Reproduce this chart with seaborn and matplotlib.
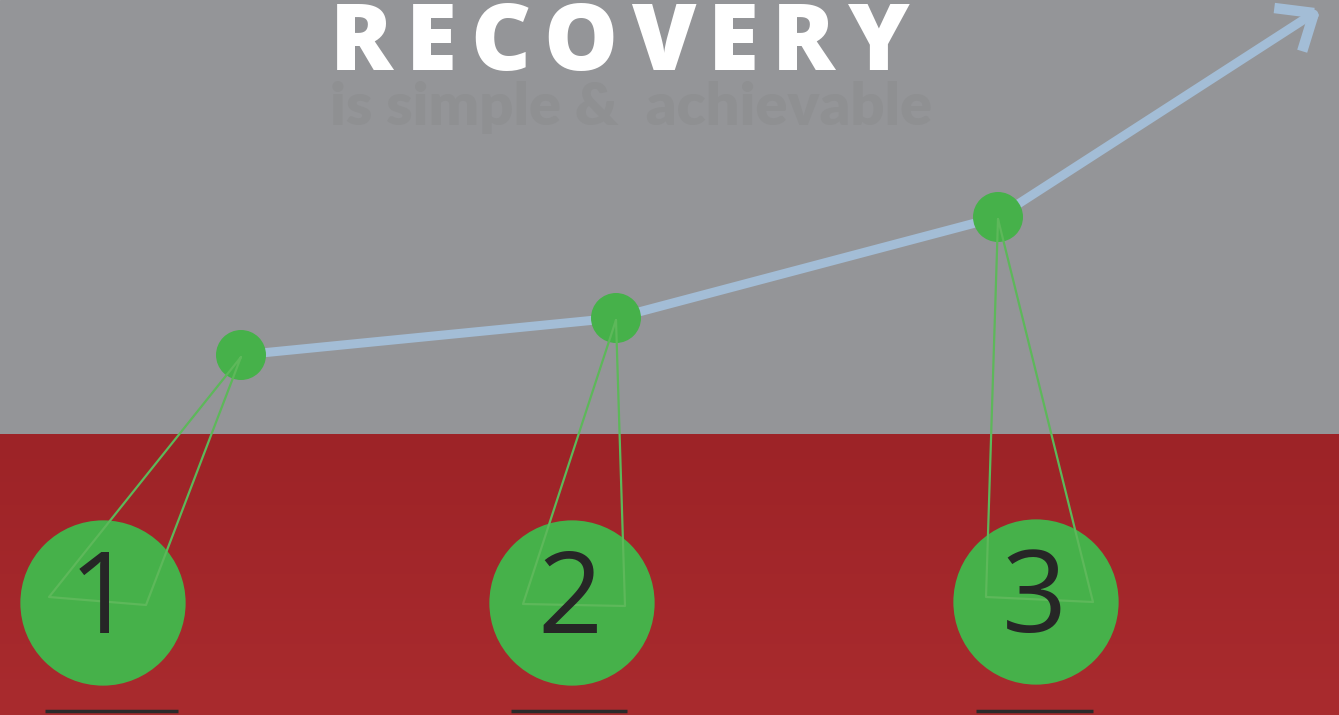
import numpy as np
import matplotlib
matplotlib.use("Agg")
import matplotlib.pyplot as plt
import seaborn as sns
import pandas as pd
from matplotlib.colors import LinearSegmentedColormap

# trend line points (pixel-like coordinates, y grows downward)
step_x = [241, 616, 998]
step_y = [355, 318, 217]
arrow_end = (1314, 13)

# numbered badges
badge_labels = ["1", "2", "3"]
badge_x = [103, 572, 1036]
badge_y = [603, 603, 602]

# pointer triangles: left foot / right foot of each
foot_left = [(49, 597), (523, 604), (986, 597)]
foot_right = [(146, 605), (625, 606), (1093, 602)]

# underline segments
under_x0 = [45, 511, 976]
under_x1 = [178, 627, 1093]

title = "RECOVERY"
subtitle = "is simple &  achievable"

GRAY = "#949598"
LINE = "#a3bdd6"
GREEN = "#46b14a"
THIN_GREEN = "#5db85a"

sns.set_theme(style="white")
plt.rcParams['font.family'] = ['Open Sans', 'DejaVu Sans']

fig = plt.figure(figsize=(13.39, 7.15), dpi=100)
ax = fig.add_axes([0, 0, 1, 1])

# backgrounds
ax.axhspan(0, 434, color=GRAY, zorder=0)
grad = np.linspace(0, 1, 100).reshape(-1, 1)
red_cmap = LinearSegmentedColormap.from_list("r", ["#9d2327", "#a92b2e"])
ax.imshow(grad, extent=[0, 1339, 715, 434], cmap=red_cmap, aspect="auto", zorder=0)
ax.set_xlim(0, 1339)
ax.set_ylim(715, 0)
ax.axis("off")

# trend line + arrow
df = pd.DataFrame({"x": step_x, "y": step_y})
sns.lineplot(data=df, x="x", y="y", ax=ax, color=LINE, lw=6.5, sort=False,
             solid_capstyle="round", zorder=2)
ax.plot([step_x[-1], arrow_end[0]], [step_y[-1], arrow_end[1]], color=LINE,
        lw=6.5, solid_capstyle="butt", zorder=2)

# open chevron head
ang = np.arctan2(arrow_end[1] - step_y[-1], arrow_end[0] - step_x[-1])
for da in (np.radians(40), -np.radians(40)):
    a = ang + np.pi + da
    ax.plot([arrow_end[0], arrow_end[0] + 40 * np.cos(a)],
            [arrow_end[1], arrow_end[1] + 40 * np.sin(a)],
            color=LINE, lw=7.5, solid_capstyle="butt", zorder=2)
ax.scatter([arrow_end[0] - 1], [arrow_end[1] + 2], s=8**2, color=LINE,
           edgecolor="none", zorder=2)

# dots
sns.scatterplot(data=df, x="x", y="y", ax=ax, color=GREEN, s=36**2,
                edgecolor="none", zorder=3, legend=False)

# badges
bdf = pd.DataFrame({"x": badge_x, "y": badge_y})
sns.scatterplot(data=bdf, x="x", y="y", ax=ax, color=GREEN, s=119**2,
                edgecolor="none", zorder=3, legend=False)
for lab, bx, by in zip(badge_labels, badge_x, badge_y):
    ax.text(bx - 2, by, lab, ha="center", va="center", fontsize=82,
            color="#262626", zorder=5)

# pointer triangles
for (sx, sy), fl, fr in zip(zip(step_x, step_y), foot_left, foot_right):
    ax.plot([sx, fl[0], fr[0], sx], [sy + 2, fl[1], fr[1], sy + 2],
            color=THIN_GREEN, lw=1.6, zorder=4)

for x0, x1 in zip(under_x0, under_x1):
    ax.plot([x0, x1], [711, 711], color="#2a2a2a", lw=2.5, zorder=5,
            solid_capstyle="butt")

# title, letter by letter with wide tracking
fig.canvas.draw()
renderer = fig.canvas.get_renderer()
inv = ax.transData.inverted()
x = 330
for ch in title:
    t = ax.text(x, 70, ch, ha="left", va="baseline", fontsize=67,
                fontweight="heavy", color="white", zorder=6)
    bb = t.get_window_extent(renderer)
    x += inv.transform((bb.x1, 0))[0] - inv.transform((bb.x0, 0))[0] + 13

sub = ax.text(330, 125, subtitle, ha="left", va="baseline", fontsize=46,
              fontweight="heavy", color="#8f9092", zorder=6,
              family=["Lato", "DejaVu Sans"])
fig.canvas.draw()
bb = sub.get_window_extent(renderer)
w = inv.transform((bb.x1, 0))[0] - inv.transform((bb.x0, 0))[0]
if w > 0:
    sub.set_fontsize(46 * 602 / w)

fig.savefig("out.png", dpi=100)
